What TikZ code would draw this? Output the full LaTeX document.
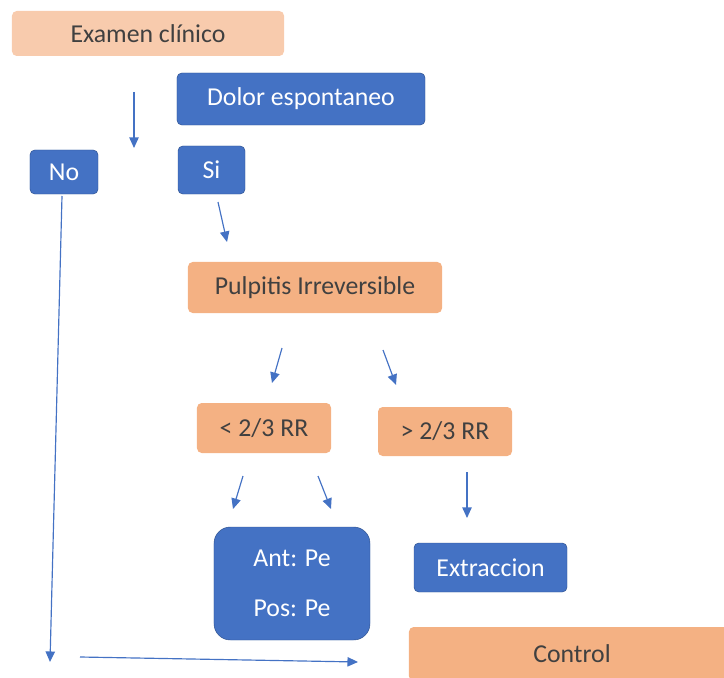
\documentclass[tikz,border=0pt]{standalone}
\usepackage{fontspec}
\setmainfont{Carlito}
\usetikzlibrary{arrows.meta}
\definecolor{boxblue}{HTML}{4472C4}
\definecolor{boxedge}{HTML}{2F528F}
\definecolor{peachlight}{HTML}{F8CBAD}
\definecolor{peachdark}{HTML}{F4B183}
\definecolor{textgray}{HTML}{404040}

\begin{document}
\begin{tikzpicture}[x=0.03cm,y=-0.03cm,
  box/.style={rounded corners=4pt,align=center,inner sep=0pt,
    font=\fontsize{22}{26}\selectfont},
  bluebox/.style={box,fill=boxblue,draw=boxedge,thin,text=white},
  peachbox/.style={box,fill=peachdark,text=textgray},
  arr/.style={-{Triangle[length=9pt,width=8pt]},draw=boxblue,line width=1pt}]
\useasboundingbox (0,0) rectangle (724,678);
\node[peachbox,fill=peachlight,minimum width=8.16cm,minimum height=1.35cm] (EX) at (148,33.5) {Examen clínico};
\node[bluebox,minimum width=7.44cm,minimum height=1.56cm] (DE) at (301,99) {Dolor espontaneo};
\node[bluebox,minimum width=2.04cm,minimum height=1.32cm] (NO) at (64,172) {No};
\node[bluebox,minimum width=2.01cm,minimum height=1.44cm] (SI) at (211.5,170) {Si};
\node[peachbox,minimum width=7.62cm,minimum height=1.53cm] (PI) at (315,287.5) {Pulpitis Irreversible};
\node[peachbox,minimum width=4.02cm,minimum height=1.5cm] (LT) at (264,428) {< 2/3 RR};
\node[peachbox,minimum width=4.02cm,minimum height=1.47cm] (GT) at (445,431.5) {> 2/3 RR};
\node[bluebox,rounded corners=14pt,minimum width=4.68cm,minimum height=3.39cm] (AP) at (292,583.5) {Ant: Pe\\[17pt] Pos: Pe};
\node[bluebox,minimum width=4.59cm,minimum height=1.47cm] (EXT) at (490.5,567.5) {Extraccion};
\node[peachbox,minimum width=9.78cm,minimum height=1.62cm] (CO) at (572,654) {Control};
% free arrows
\coordinate (a1) at (134,92);  \coordinate (b1) at (134,148);
\coordinate (a2) at (62,196);  \coordinate (b2) at (50,662);
\coordinate (a3) at (80,657);  \coordinate (b3) at (358,662);
\coordinate (a4) at (218,202); \coordinate (b4) at (227,242);
\coordinate (a5) at (282,348); \coordinate (b5) at (272,383);
\coordinate (a6) at (383,350); \coordinate (b6) at (396,385);
\coordinate (a7) at (243,476); \coordinate (b7) at (233,509);
\coordinate (a8) at (318,476); \coordinate (b8) at (331,509);
\coordinate (a9) at (467,472); \coordinate (b9) at (467,518);
\draw[arr] (a1) -- (b1);
\draw[arr] (a2) -- (b2);
\draw[arr] (a3) -- (b3);
\draw[arr] (a4) -- (b4);
\draw[arr] (a5) -- (b5);
\draw[arr] (a6) -- (b6);
\draw[arr] (a7) -- (b7);
\draw[arr] (a8) -- (b8);
\draw[arr] (a9) -- (b9);
\end{tikzpicture}
\end{document}
